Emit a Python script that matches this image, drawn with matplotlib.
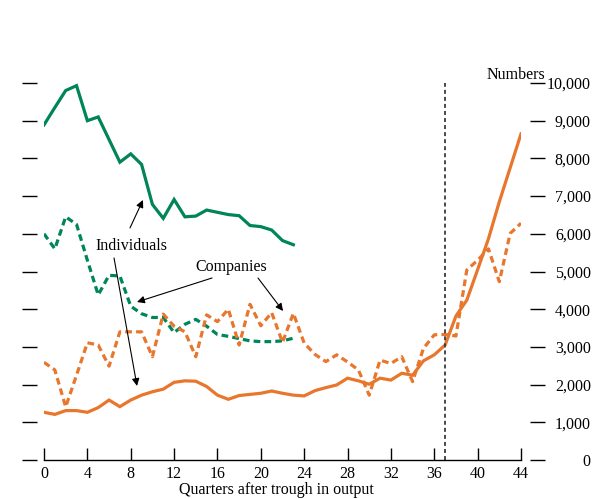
import matplotlib
matplotlib.use("Agg")
import matplotlib.pyplot as plt
import numpy as np

plt.rcParams['font.family'] = ['Liberation Serif', 'DejaVu Serif']
plt.rcParams['font.size'] = 11.5

# ---- data ----
quarters_a = list(range(0, 24))
quarters_b = list(range(0, 45))

green_individuals = [8890, 9350, 9800, 9930, 9000, 9100, 8500, 7900, 8120, 7840,
                     6780, 6410, 6910, 6450, 6470, 6630, 6570, 6510, 6480, 6220,
                     6190, 6100, 5820, 5710]
green_companies = [6000, 5600, 6450, 6250, 5300, 4380, 4900, 4880, 4080, 3880,
                   3780, 3780, 3380, 3600, 3730, 3550, 3330, 3280, 3220, 3160,
                   3140, 3140, 3160, 3230]
orange_individuals = [1265, 1210, 1310, 1310, 1265, 1390, 1590, 1415, 1590, 1720,
                      1810, 1880, 2060, 2100, 2090, 1950, 1720, 1610, 1710, 1740,
                      1770, 1830, 1770, 1720, 1700, 1840, 1920, 1990, 2170, 2100,
                      2010, 2170, 2120, 2300, 2250, 2630, 2790, 3050, 3820, 4240,
                      5050, 5870, 6850, 7750, 8650]
orange_companies = [2590, 2390, 1410, 2250, 3110, 3050, 2490, 3400, 3400, 3400,
                    2740, 3870, 3550, 3400, 2740, 3850, 3670, 4000, 3050, 4130,
                    3560, 3910, 3120, 3890, 3100, 2800, 2610, 2790, 2600, 2390,
                    1720, 2650, 2560, 2740, 2080, 2960, 3320, 3330, 3290, 5040,
                    5300, 5600, 4730, 6010, 6280]

x_ticks = list(range(0, 45, 4))
y_ticks = list(range(0, 10001, 1000))
y_tick_labels = ['0', '1,000', '2,000', '3,000', '4,000', '5,000', '6,000',
                 '7,000', '8,000', '9,000', '10,000']
marker_quarter = 37

GREEN = '#00855A'
ORANGE = '#E8762C'

W, H = 600, 499
fig = plt.figure(figsize=(W / 100, H / 100), dpi=100)
ax = fig.add_axes([44 / W, 39 / H, 477 / W, 377 / H])

lw = 2.3
ax.plot(quarters_a, green_individuals, color=GREEN, lw=lw, solid_joinstyle='miter')
ax.plot(quarters_a, green_companies, color=GREEN, lw=lw, dashes=(2.1, 1.3))
ax.plot(quarters_b, orange_individuals, color=ORANGE, lw=lw, solid_joinstyle='miter')
ax.plot(quarters_b, orange_companies, color=ORANGE, lw=lw, dashes=(2.1, 1.3))

ax.axvline(marker_quarter, color='#3a3a3a', lw=1.3, dashes=(2.2, 1.7))

ax.set_xlim(0, 44)
ax.set_ylim(0, 10000)

for s in ['top', 'right', 'left']:
    ax.spines[s].set_visible(False)
ax.spines['left'].set_position(('outward', 5))
ax.spines['right'].set_position(('outward', 6.5))
ax.spines['bottom'].set_bounds(0, 44)
ax.spines['bottom'].set_linewidth(1.0)

ax.set_xticks(x_ticks)
ax.set_xticklabels([str(v) for v in x_ticks])
ax.tick_params(axis='x', direction='in', length=8.6, width=1.0, pad=4)

ax.set_yticks(y_ticks)
ax.set_yticklabels(y_tick_labels)
ax.tick_params(axis='y', direction='out', length=10.8, width=1.0,
               left=True, right=True, labelleft=False, labelright=True, pad=33)
for lab in ax.get_yticklabels():
    lab.set_horizontalalignment('right')

arrow = dict(arrowstyle='-|>', color='black', lw=0.8, mutation_scale=11,
             shrinkA=0, shrinkB=0)
ax.text(8.03, 5676, 'Individuals', ha='center', va='center')
ax.annotate('', xy=(9.13, 6897), xytext=(7.93, 6154), arrowprops=arrow)
ax.annotate('', xy=(8.58, 1963), xytext=(6.46, 5358), arrowprops=arrow)

ax.text(17.25, 5119, 'Companies', ha='center', va='center')
ax.annotate('', xy=(8.58, 4191), xytext=(15.5, 4828), arrowprops=arrow)
ax.annotate('', xy=(22.05, 3952), xytext=(19.74, 4828), arrowprops=arrow)

fig.text(545 / W, 1 - 75 / H, 'Numbers', ha='right', va='center')
fig.text(276 / W, 1 - 490 / H, 'Quarters after trough in output', ha='center', va='center')

fig.savefig('out.png', dpi=100)
